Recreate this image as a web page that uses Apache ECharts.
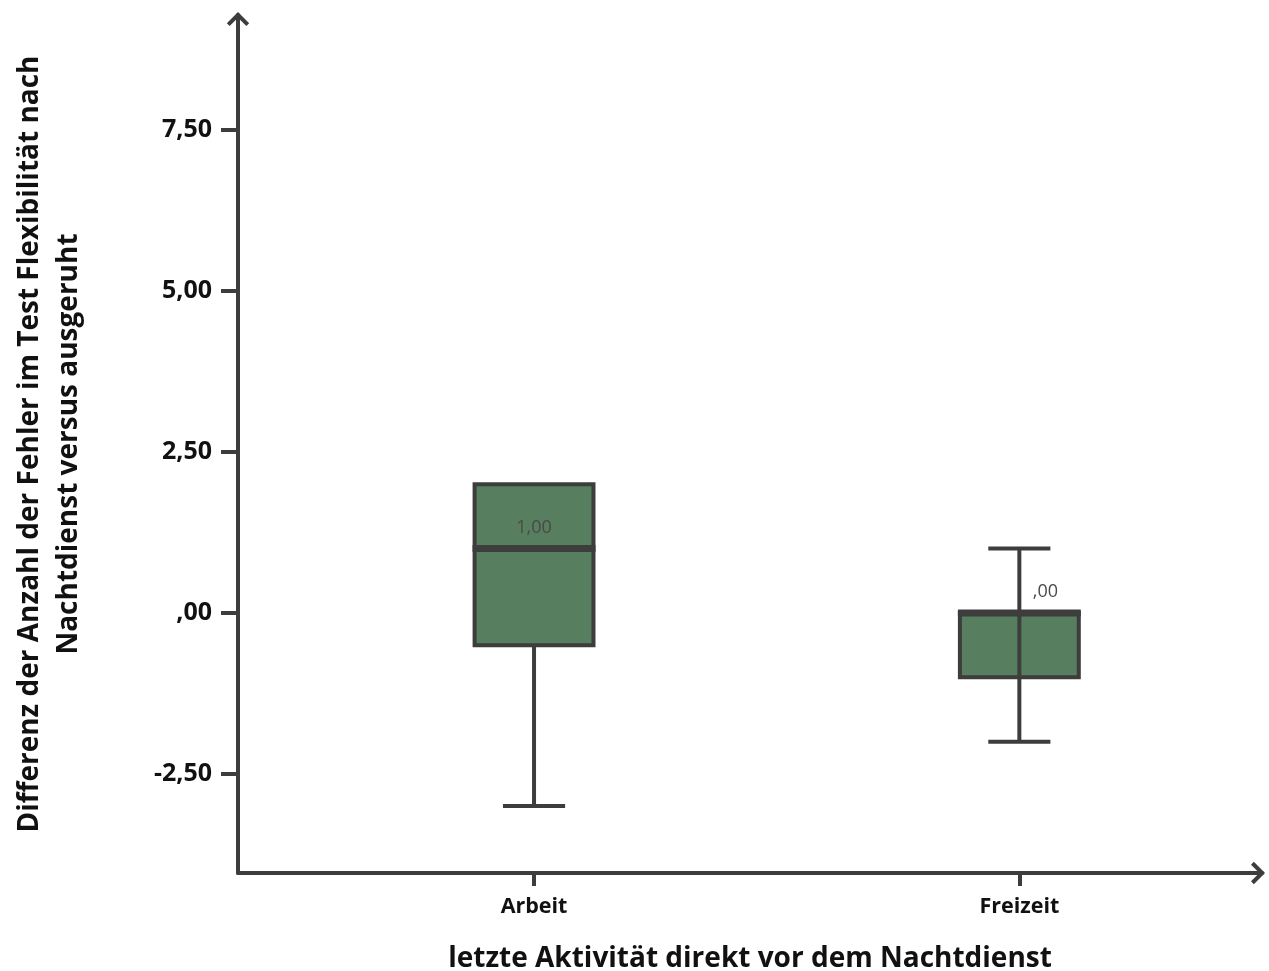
<!DOCTYPE html>
<html>
<head>
<meta charset="utf-8">
<script src="https://cdn.jsdelivr.net/npm/echarts@6/dist/echarts.min.js"></script>
<style>
  html, body { margin: 0; padding: 0; background: #ffffff; }
  #chart { width: 1269px; height: 971px; }
</style>
</head>
<body>
<div id="chart"></div>
<script>
// ---- data ----
const categories = ['Arbeit', 'Freizeit'];
const whiskerLow = [-3, -2];
const quartile1 = [-0.5, -1];
const medians = [1, 0];
const quartile3 = [2, 0];
const whiskerHigh = [2, 1];
const yTickValues = [-2.5, 0, 2.5, 5, 7.5];
const xTitle = 'letzte Aktivität direkt vor dem Nachtdienst';
const yTitle = 'Differenz der Anzahl der Fehler im Test Flexibilität nach\nNachtdienst versus ausgeruht';

// ---- helpers ----
function fmtDe(v) {
  let s = Math.abs(v).toFixed(2).replace('.', ',');
  if (s.startsWith('0,')) s = s.slice(1);
  return (v < 0 ? '-' : '') + s;
}
const catPos = categories.map((c, i) => i + 1);
const seriesData = categories.map((c, i) => [catPos[i], whiskerLow[i], quartile1[i], medians[i], quartile3[i], whiskerHigh[i]]);

const FONT = 'Open Sans';
const LINE = '#3d3d3d';
const BOX_W = 0.245;   // in x-axis units
const CAP_W = 0.128;

function renderItem(params, api) {
  const x = api.value(0);
  const vMin = api.value(1), vQ1 = api.value(2), vMed = api.value(3), vQ3 = api.value(4), vMax = api.value(5);
  const cx = api.coord([x, vMed])[0];
  const half = (api.coord([x + BOX_W / 2, 0])[0] - api.coord([x - BOX_W / 2, 0])[0]) / 2;
  const capHalf = (api.coord([x + CAP_W / 2, 0])[0] - api.coord([x - CAP_W / 2, 0])[0]) / 2;
  const yMin = api.coord([x, vMin])[1];
  const yQ1 = api.coord([x, vQ1])[1];
  const yMed = api.coord([x, vMed])[1];
  const yQ3 = api.coord([x, vQ3])[1];
  const yMax = api.coord([x, vMax])[1];
  const lineStyle = { stroke: LINE, lineWidth: 4, fill: null };
  const children = [];
  if (vMin < vQ1) {
    children.push({ type: 'line', shape: { x1: cx, y1: yQ1, x2: cx, y2: yMin }, style: lineStyle });
    children.push({ type: 'line', shape: { x1: cx - capHalf, y1: yMin, x2: cx + capHalf, y2: yMin }, style: lineStyle });
  }
  if (vMax > vQ3) {
    children.push({ type: 'line', shape: { x1: cx, y1: yQ3, x2: cx, y2: yMax }, style: lineStyle });
    children.push({ type: 'line', shape: { x1: cx - capHalf, y1: yMax, x2: cx + capHalf, y2: yMax }, style: lineStyle });
  }
  children.push({
    type: 'rect',
    shape: { x: cx - half, y: yQ3, width: 2 * half, height: yQ1 - yQ3 },
    style: { fill: '#567e5f', stroke: LINE, lineWidth: 4 }
  });
  const degenerate = (vMed === vQ3 || vMed === vQ1);
  if (degenerate) {
    children.push({ type: 'line', shape: { x1: cx, y1: yQ1, x2: cx, y2: yQ3 }, style: lineStyle });
  }
  children.push({ type: 'line', shape: { x1: cx - half - 2, y1: yMed, x2: cx + half + 2, y2: yMed }, style: { stroke: LINE, lineWidth: 7 } });
  children.push({
    type: 'text',
    x: cx + (degenerate ? 26 : 0),
    y: yMed - 21,
    style: {
      text: fmtDe(vMed), fill: '#4a4a4a', font: '18px "' + FONT + '"',
      align: 'center', verticalAlign: 'middle'
    }
  });
  return { type: 'group', children: children };
}

const arrowPath = 'path://M11,0 L22,11 L19.2,13.8 L11,5.6 L2.8,13.8 L0,11 Z';

const chart = echarts.init(document.getElementById('chart'), null, { renderer: 'canvas' });
chart.setOption({
  backgroundColor: '#ffffff',
  animation: false,
  grid: { left: 238, right: 7, top: 15, bottom: 98, containLabel: false, outerBoundsMode: 'none' },
  xAxis: {
    type: 'value',
    min: 0.39,
    max: 2.5,
    splitLine: { show: false },
    axisLine: {
      show: true, onZero: false,
      lineStyle: { color: LINE, width: 4 },
      symbol: ['none', arrowPath], symbolSize: [24, 14], symbolOffset: [0, -4]
    },
    axisTick: { show: true, customValues: catPos, length: 13, lineStyle: { color: LINE, width: 4 } },
    axisLabel: {
      customValues: catPos,
      formatter: v => categories[Math.round(v) - 1] || '',
      color: '#111', fontFamily: FONT, fontWeight: 'bold', fontSize: 21.5, margin: 23
    },
    name: xTitle,
    nameLocation: 'middle',
    nameGap: 72,
    nameTextStyle: { color: '#111', fontFamily: FONT, fontWeight: 'bold', fontSize: 28 }
  },
  yAxis: {
    type: 'value',
    min: -4.04,
    max: 9.29,
    splitLine: { show: false },
    axisLine: {
      show: true, onZero: false,
      lineStyle: { color: LINE, width: 4 },
      symbol: ['none', arrowPath], symbolSize: [24, 14], symbolOffset: [0, -4]
    },
    axisTick: { show: true, customValues: yTickValues, length: 17, lineStyle: { color: LINE, width: 4 } },
    axisLabel: {
      customValues: yTickValues,
      formatter: v => fmtDe(v),
      color: '#111', fontFamily: FONT, fontWeight: 'bold', fontSize: 25, margin: 26
    },
    name: yTitle,
    nameLocation: 'middle',
    nameRotate: 90,
    nameGap: 149,
    nameTextStyle: { color: '#111', fontFamily: FONT, fontWeight: 'bold', fontSize: 28, lineHeight: 39 }
  },
  series: [{
    type: 'custom',
    renderItem: renderItem,
    encode: { x: 0, y: [1, 2, 3, 4, 5] },
    data: seriesData,
    clip: false
  }]
});
</script>
</body>
</html>
